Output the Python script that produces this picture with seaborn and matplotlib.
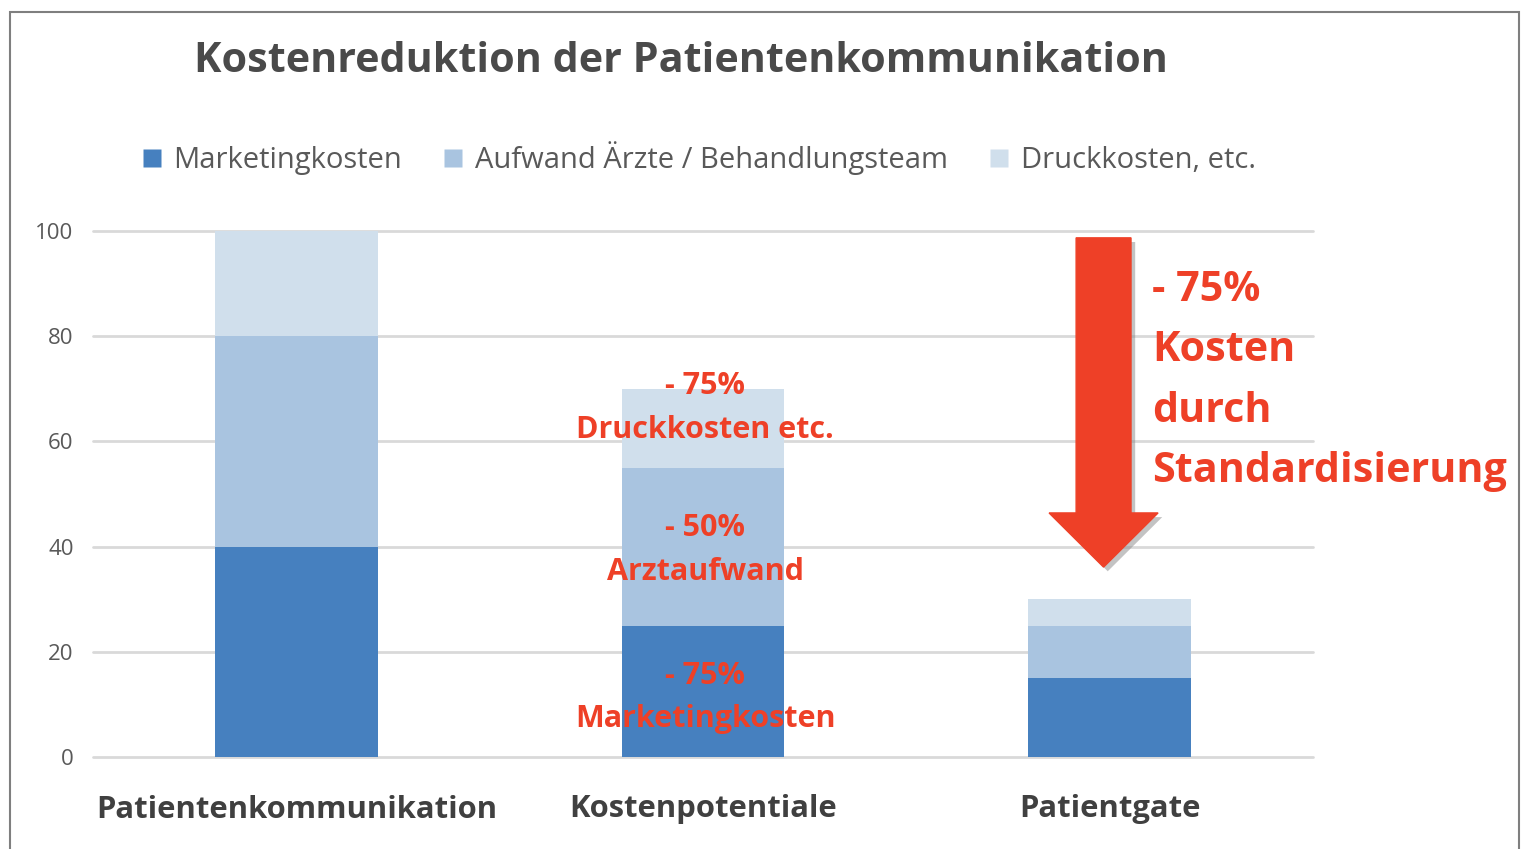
import numpy as np
import pandas as pd
import matplotlib
matplotlib.use("Agg")
import matplotlib.pyplot as plt
import seaborn as sns
from matplotlib.patches import Rectangle, FancyArrow
from matplotlib.lines import Line2D
import matplotlib.patheffects as pe

# ---- data ----
categories = ["Patientenkommunikation", "Kostenpotentiale", "Patientgate"]
series_names = ["Marketingkosten", "Aufwand Ärzte / Behandlungsteam", "Druckkosten, etc."]
marketing = [40, 25, 15]
aufwand = [40, 30, 10]
druck = [20, 15, 5]
y_ticks = [0, 20, 40, 60, 80, 100]

colors = ["#4680BF", "#A9C4E0", "#D0DFEC"]
red = "#EE4027"

sns.set_theme(style="white")
plt.rcParams["font.family"] = ["Open Sans", "DejaVu Sans"]

fig = plt.figure(figsize=(15.24, 8.49), dpi=100)
ax = fig.add_axes([93 / 1524, 1 - 757 / 849, (1313 - 93) / 1524, (757 - 231) / 849])

df = pd.DataFrame({"cat": categories,
                   "m": marketing, "a": aufwand, "d": druck})
df["lvl1"] = df["m"]
df["lvl2"] = df["m"] + df["a"]
df["lvl3"] = df["m"] + df["a"] + df["d"]

for col, c in zip(["lvl3", "lvl2", "lvl1"], colors[::-1]):
    sns.barplot(data=df, x="cat", y=col, color=c, width=0.40, ax=ax,
                saturation=1, edgecolor="none", linewidth=0, zorder=3)

ax.set_xlim(-0.5, 2.5)
ax.set_ylim(0, 100)
ax.set_yticks(y_ticks)
ax.set_yticklabels([str(v) for v in y_ticks], fontsize=16, color="#595959")
ax.grid(axis="y", color="#D9D9D9", linewidth=2, zorder=0)
for gl in ax.get_ygridlines():
    gl.set_clip_on(False)
ax.set_axisbelow(True)
for s in ax.spines.values():
    s.set_visible(False)
ax.tick_params(axis="y", length=0, pad=14)
ax.tick_params(axis="x", length=0, pad=27)
ax.set_xticks(range(len(categories)))
ax.set_xticklabels(categories, fontsize=22.3, fontweight="bold", color="#404040")
ax.set_xlabel("")
ax.set_ylabel("")

# title
fig.text(681 / 1524, 1 - 61 / 849, "Kostenreduktion der Patientenkommunikation",
         ha="center", va="center", fontsize=29.7, fontweight="bold", color="#4A4A4A")

# legend
handles = [Line2D([0], [0], marker="s", linestyle="none", markersize=12.5,
                  markerfacecolor=c, markeredgecolor="none") for c in colors]
fig.legend(handles, series_names, loc="center", bbox_to_anchor=(698 / 1524, 1 - 158 / 849),
           ncol=3, frameon=False, fontsize=21, labelcolor="#595959",
           handletextpad=0.35, columnspacing=1.35, handlelength=0.8)

# annotation texts in middle bar
txt_kw = dict(ha="center", va="center", fontsize=22, fontweight="bold", color=red,
              linespacing=1.6, zorder=5)
ax.text(1.005, 66.4, "- 75%\nDruckkosten etc.", **txt_kw)
ax.text(1.005, 39.3, "- 50%\nArztaufwand", **txt_kw)
ax.text(1.005, 11.3, "- 75%\nMarketingkosten", **txt_kw)

# arrow
arrow = FancyArrow(1.985, 98.7, 0, -62.6, width=0.135, head_width=0.268,
                   head_length=10.3, length_includes_head=True,
                   color=red, zorder=6, clip_on=False,
                   path_effects=[pe.SimplePatchShadow(offset=(3, -3), shadow_rgbFace="#888888", alpha=0.5),
                                 pe.Normal()])
ax.add_patch(arrow)

fig.text(1152 / 1524, 1 - 381 / 849, "- 75%\nKosten\ndurch\nStandardisierung",
         ha="left", va="center", fontsize=29.7, fontweight="bold", color=red,
         linespacing=1.63)

# outer frame
fig.add_artist(Rectangle((10 / 1524, -0.01), (1519 - 10) / 1524, (849 - 12) / 849 + 0.01,
                         transform=fig.transFigure, fill=False,
                         edgecolor="#7F7F7F", linewidth=1.5))

fig.savefig("out.png", dpi=100)
